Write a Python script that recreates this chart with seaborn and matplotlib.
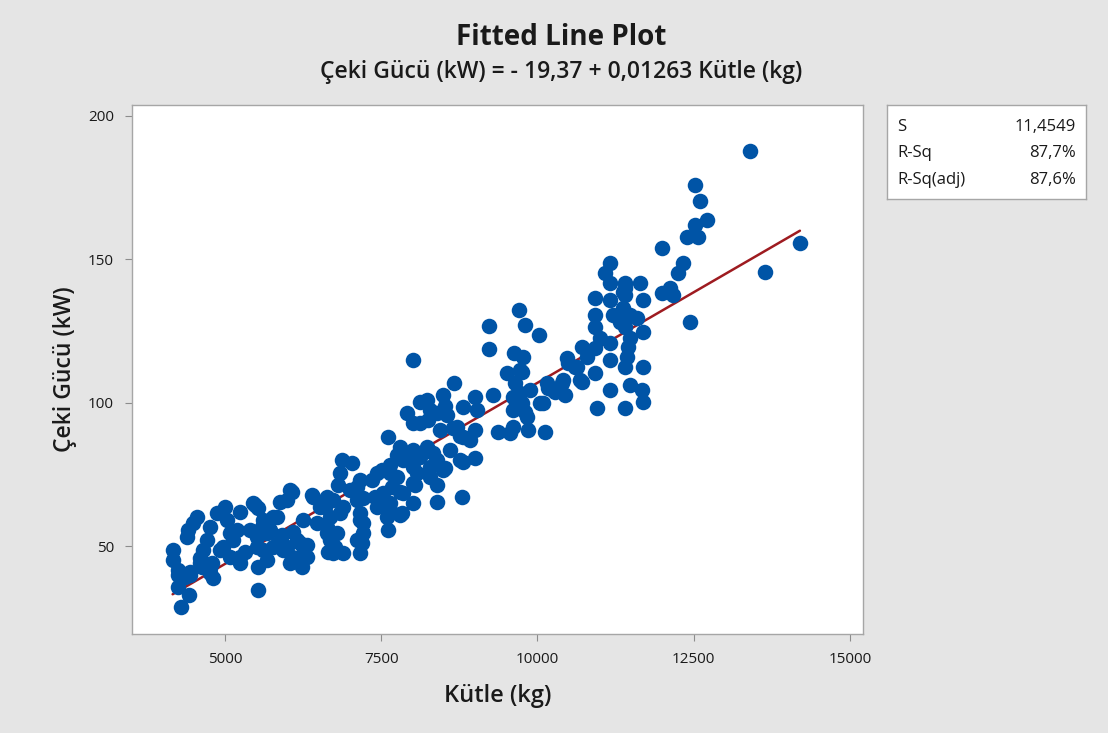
import numpy as np
import pandas as pd
import matplotlib
matplotlib.use("Agg")
import matplotlib.pyplot as plt
from matplotlib.patches import Rectangle
import seaborn as sns

# ---- data ----
kutle = [
    4160, 4160, 4250, 4250, 4300, 4430, 4360, 4440, 4440, 4547, 4490, 4410, 4390, 4600, 4627, 4760,
    4867, 4707, 4650, 5000, 5027, 5080, 4920, 4787, 5240, 5187, 5130, 5240, 5450, 5530, 5400, 5507,
    5587, 5667, 5530, 5530, 5610, 5320, 5827, 5880, 5907, 5850, 6067, 5987, 6090, 6147, 5930, 6067,
    6227, 6227, 6307, 6387, 6250, 6467, 6627, 6600, 6627, 6650,
    5480, 4760, 4970, 5080, 5240, 4600, 4760, 4810, 4250, 5560, 5507,
    7107, 7210, 6890, 6520, 6410, 6040, 5770, 5610, 5720, 5987, 6200, 6307, 6040, 5770, 5667,
    6627, 6680, 6730, 6890, 7160, 7107, 7160,
    9224, 9224, 8003, 9707, 9627, 9510, 8667, 8490, 9000, 9283, 8810, 9027, 8120, 8227, 8280, 7907,
    8010, 8387, 8547, 8707, 8810, 9000, 9370, 9560, 9610, 7610, 7800, 7747, 8010, 8120, 8227, 8280,
    8387, 8490, 8010, 8067, 7850, 8810, 9000, 8787, 8387, 8387, 8040, 8010, 7800, 7827, 7640, 7667,
    7640, 7610, 7400, 7507, 7530, 7587, 7347, 7160, 6867, 7027, 6840, 6810, 7000, 6730, 7107, 6680,
    6840, 7160, 7210, 6787, 7210, 7187, 6760,
    8120, 8250, 8440, 8650, 8760, 8920, 7907, 8330, 8600, 8520, 8760, 7640, 7427, 7747, 8010, 8280,
    7530, 7850, 7427, 7640, 7800, 8520,
    11987, 11160, 11080, 11160, 11400, 11640, 11400, 11987, 10920, 11160, 11690, 11370, 10920, 11210,
    11587, 10920, 11400, 11690, 11000, 11160, 11450, 10707, 11427, 11160, 11400, 11690, 10467, 10787,
    10600, 10490, 10920, 10707, 11160, 11480, 11667, 11690, 11400, 10947, 10387, 10250, 10147, 10090,
    9800, 10025, 9720, 9640, 9720, 9800, 9610, 9850, 10120,
    9770, 10627, 9747, 9880, 10170, 10410, 10280, 10440, 10680, 9610, 9747, 10040, 9827, 11370, 11480,
    11320, 11480, 10920, 11400,
    13400, 12520, 12600, 12707, 12520, 12387, 12570, 12330, 12250, 14200, 13640, 12120, 12170, 12440,
]
ceki_gucu = [
    48.6, 45.1, 39.9, 35.7, 28.7, 32.9, 39.2, 39.9, 41.0, 60.1, 58.0, 55.6, 53.1, 45.8, 42.7, 40.6,
    61.5, 52.1, 48.6, 63.6, 59.0, 54.5, 48.6, 44.0, 61.9, 55.6, 52.1, 46.2, 65.0, 63.3, 55.6, 53.1,
    56.6, 54.5, 42.7, 34.6, 48.6, 47.9, 60.1, 65.4, 53.8, 51.0, 68.8, 66.0, 54.9, 52.1, 48.6, 46.2,
    42.7, 46.9, 50.3, 67.8, 59.0, 58.0, 67.1, 63.6, 54.5, 47.9,
    64.3, 56.7, 49.8, 46.3, 44.0, 44.0, 42.3, 38.8, 41.6, 55.6, 49.8,
    70.7, 66.7, 63.7, 63.7, 67.2, 69.5, 60.2, 59.0, 55.6, 49.8, 51.0, 46.3, 44.0, 49.8, 45.1,
    56.7, 52.1, 47.6, 47.6, 47.6, 52.1, 59.0,
    126.8, 118.8, 114.9, 132.4, 117.4, 110.4, 106.9, 102.7, 102.0, 102.7, 98.5, 97.5, 100.3, 101.0, 97.5, 96.4,
    92.9, 96.4, 95.7, 91.5, 88.0, 90.5, 89.8, 89.4, 97.5, 88.0, 84.5, 81.8, 83.5, 81.1, 84.5, 77.6,
    80.0, 76.5, 77.6, 75.5, 80.0, 79.3, 80.7, 67.1, 71.3, 65.4, 71.3, 65.0, 68.8, 61.5, 75.5, 70.6,
    65.0, 55.6, 67.1, 76.5, 65.4, 60.1, 73.0, 73.0, 80.0, 79.0, 75.5, 71.3, 69.5, 66.0, 66.0, 60.1,
    61.5, 61.5, 58.0, 54.5, 54.5, 51.0, 49.7,
    92.9, 94.0, 90.5, 91.2, 88.2, 87.0, 81.2, 82.5, 83.5, 77.2, 80.0, 78.3, 75.5, 74.2, 72.0, 74.2,
    68.5, 68.5, 63.7, 62.6, 60.8, 99.0,
    154.0, 148.8, 145.3, 141.8, 141.8, 141.8, 137.6, 138.3, 136.6, 135.9, 135.9, 133.0, 130.6, 130.6,
    129.6, 126.4, 126.4, 124.7, 122.6, 120.9, 119.5, 119.5, 116.0, 114.9, 112.5, 112.5, 115.6, 116.0,
    112.5, 113.9, 110.4, 107.2, 104.4, 106.2, 104.4, 100.3, 98.2, 98.2, 106.9, 104.4, 106.9, 99.9,
    127.1, 123.6, 111.4, 106.9, 103.4, 96.8, 91.5, 90.5, 89.8,
    116.0, 112.5, 110.8, 104.4, 105.1, 107.9, 103.8, 102.7, 107.9, 102.1, 99.9, 99.9, 95.1, 138.7, 130.6,
    128.2, 122.6, 119.1, 140.0,
    187.9, 175.9, 170.5, 163.8, 162.0, 157.8, 157.8, 148.8, 145.3, 155.7, 145.6, 140.0, 137.6, 128.2,
]
intercept = -19.37
slope = 0.01263
stat_labels = ["S", "R-Sq", "R-Sq(adj)"]
stat_values = ["11,4549", "87,7%", "87,6%"]
x_ticks = [5000, 7500, 10000, 12500, 15000]
y_ticks = [50, 100, 150, 200]

df = pd.DataFrame({"Kütle (kg)": kutle, "Çeki Gücü (kW)": ceki_gucu})
xs = np.array([min(kutle), max(kutle)])
fit = pd.DataFrame({"x": xs, "y": intercept + slope * xs})

sns.set_theme(style="white")
plt.rcParams["font.family"] = ["Open Sans", "DejaVu Sans"]

BG = "#e5e5e5"
BLUE = "#0054a6"
RED = "#9e1b20"
EDGE = "#a6a6a6"
TXT = "#1a1a1a"

fig = plt.figure(figsize=(11.15, 7.40), dpi=100, facecolor="white")
fig.patches.append(Rectangle((0, 0.009), 0.994, 0.991, transform=fig.transFigure,
                             facecolor=BG, edgecolor="none", zorder=-10))

ax = fig.add_axes([0.1184, 0.1432, 0.6556, 0.7148])
ax.set_facecolor("white")

sns.lineplot(data=fit, x="x", y="y", ax=ax, color=RED, linewidth=1.8, zorder=1)
sns.scatterplot(data=df, x="Kütle (kg)", y="Çeki Gücü (kW)", ax=ax, color=BLUE,
                s=125, linewidth=0, alpha=1, zorder=2)

ax.set_xlim(3510, 15210)
ax.set_ylim(19.3, 203.8)
ax.set_xticks(x_ticks)
ax.set_yticks(y_ticks)
ax.set_xticklabels([str(t) for t in x_ticks])
ax.set_yticklabels([str(t) for t in y_ticks])
ax.tick_params(axis="both", which="both", direction="out", length=5, width=0.8,
               color="#8c8c8c", labelsize=11, labelcolor=TXT, pad=8)
ax.tick_params(bottom=True, left=True)
for sp in ax.spines.values():
    sp.set_color(EDGE)
    sp.set_linewidth(1.0)

ax.set_xlabel("Kütle (kg)", fontsize=17, color=TXT, labelpad=12, fontweight=600)
ax.set_ylabel("Çeki Gücü (kW)", fontsize=16.5, color=TXT, labelpad=8, fontweight=600)

fig.text(0.503, 0.949, "Fitted Line Plot", ha="center", va="center",
         fontsize=20, fontweight="bold", color=TXT)
fig.text(0.503, 0.903, "Çeki Gücü (kW) = - 19,37 + 0,01263 Kütle (kg)", ha="center",
         va="center", fontsize=16.5, fontweight=600, color=TXT)

# stats box
bx = fig.add_axes([0.7955, 0.731, 0.1785, 0.127])
bx.set_facecolor("white")
bx.set_xticks([]); bx.set_yticks([])
bx.set_xlim(0, 1); bx.set_ylim(0, 1)
for sp in bx.spines.values():
    sp.set_color(EDGE)
    sp.set_linewidth(1.0)
for i, (lab, val) in enumerate(zip(stat_labels, stat_values)):
    yy = 0.77 - i * 0.285
    bx.text(0.05, yy, lab, ha="left", va="center", fontsize=12, color=TXT)
    bx.text(0.95, yy, val, ha="right", va="center", fontsize=12, color=TXT)

fig.savefig("out.png", dpi=100, facecolor="white")
